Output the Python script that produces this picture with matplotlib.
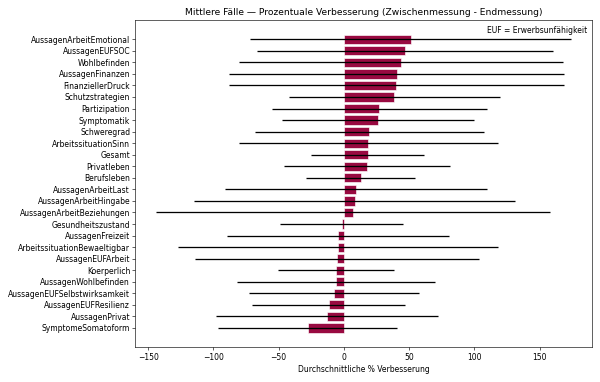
"""
Mittlere Fälle: prozentuale Verbesserung (Zwischenmessung - Endmessung).

Horizontal bar chart of mean % improvement with symmetric spread lines.
"""

import numpy as np
import matplotlib.pyplot as plt

# ---------------------------------------------------------------------------
# Data (top row first)
# ---------------------------------------------------------------------------

categories = [
    "AussagenArbeitEmotional", "AussagenEUFSOC", "Wohlbefinden",
    "AussagenFinanzen", "FinanziellerDruck", "Schutzstrategien",
    "Partizipation", "Symptomatik", "Schweregrad", "ArbeitssituationSinn",
    "Gesamt", "Privatleben", "Berufsleben", "AussagenArbeitLast",
    "AussagenArbeitHingabe", "AussagenArbeitBeziehungen", "Gesundheitszustand",
    "AussagenFreizeit", "ArbeitssituationBewaeltigbar", "AussagenEUFArbeit",
    "Koerperlich", "AussagenWohlbefinden", "AussagenEUFSelbstwirksamkeit",
    "AussagenEUFResilienz", "AussagenPrivat", "SymptomeSomatoform",
]
mean_improvement = [
    51.2, 46.7, 43.6, 40.4, 40.3, 38.7, 27.2, 26.2, 19.6, 18.7,
    18.2, 17.9, 12.9, 9.0, 8.2, 7.1, -1.8, -4.5, -4.6, -5.2,
    -5.8, -6.0, -7.6, -11.7, -13.0, -27.9,
]
spread = [
    123.0, 113.5, 124.2, 128.5, 128.5, 81.0, 82.7, 73.3, 88.0, 99.2,
    43.1, 63.6, 41.8, 100.4, 123.0, 151.0, 47.4, 85.4, 122.5, 108.8,
    44.4, 75.8, 65.5, 58.8, 85.4, 68.3,
]

BAR_COLOR = "#990a41"
DPI = 600 / 11

# ---------------------------------------------------------------------------
# Figure
# ---------------------------------------------------------------------------

fig, ax = plt.subplots(figsize=(11, 382 / DPI), dpi=DPI)
y_pos = np.arange(len(categories))

ax.barh(y_pos, mean_improvement, xerr=spread, height=0.8,
        color=BAR_COLOR, edgecolor="white", linewidth=0.8,
        error_kw=dict(ecolor="black", elinewidth=1.7, capsize=0))

ax.set_yticks(y_pos)
ax.set_yticklabels(categories)
ax.invert_yaxis()
ax.set_xlabel("Durchschnittliche % Verbesserung")
ax.set_title("Mittlere Fälle — Prozentuale Verbesserung (Zwischenmessung - Endmessung)")
ax.text(0.99, 0.98, "EUF = Erwerbsunfähigkeit", transform=ax.transAxes,
        ha="right", va="top", fontsize=10)

plt.tight_layout()
fig.savefig("out.png", dpi=DPI, facecolor="white")
plt.close(fig)
